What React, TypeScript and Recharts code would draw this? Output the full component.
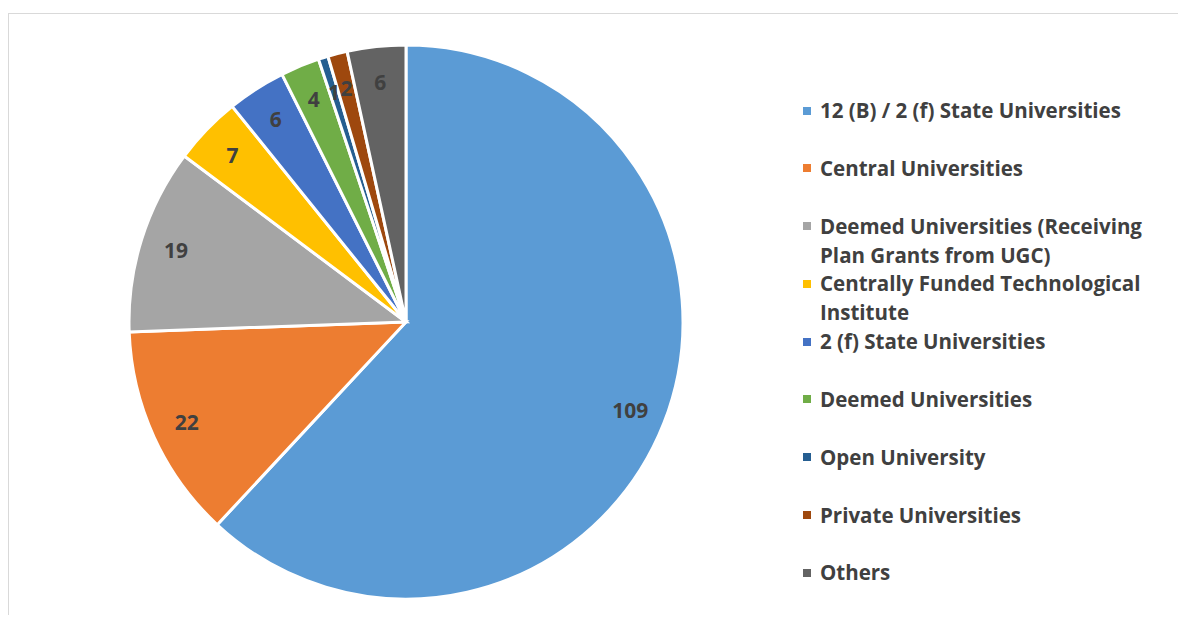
import React from "react";
import { PieChart, Pie, Cell, Legend } from "recharts";

const categories = [
  "12 (B) / 2 (f) State Universities",
  "Central Universities",
  "Deemed Universities (Receiving Plan Grants from UGC)",
  "Centrally Funded Technological Institute",
  "2 (f) State Universities",
  "Deemed Universities",
  "Open University",
  "Private Universities",
  "Others",
];

const counts = [109, 22, 19, 7, 6, 4, 1, 2, 6];

const colors = [
  "#5B9BD5",
  "#ED7D31",
  "#A5A5A5",
  "#FFC000",
  "#4472C4",
  "#70AD47",
  "#255E91",
  "#9E480E",
  "#636363",
];

const pieData = categories.map((name, i) => ({ name, value: counts[i] }));

const FONT = "'Open Sans', Lato, sans-serif";
const RADIAN = Math.PI / 180;

const renderLabel = (props: any) => {
  const { cx, cy, midAngle, value } = props;
  const r = 241;
  const x = cx + r * Math.cos(-midAngle * RADIAN);
  const y = cy + r * Math.sin(-midAngle * RADIAN);
  return (
    <text
      x={x}
      y={y}
      fill="#404040"
      fontSize={21}
      fontWeight={700}
      fontFamily={FONT}
      textAnchor="middle"
      dominantBaseline="central"
    >
      {value}
    </text>
  );
};

// keep the original series order (recharts would sort the payload)
const CustomLegend = () => {
  return (
    <ul style={{ listStyle: "none", margin: 0, padding: 0 }}>
      {categories.map((name, index) => (
        <li
          key={`item-${index}`}
          style={{
            display: "flex",
            alignItems: "flex-start",
            height: 57.8,
          }}
        >
          <span
            style={{
              width: 8,
              height: 8,
              backgroundColor: colors[index],
              marginTop: 10.5,
              marginRight: 9,
              flexShrink: 0,
            }}
          ></span>
          <span
            style={{
              color: "#404040",
              fontSize: 20.5,
              fontWeight: 700,
              fontFamily: FONT,
              lineHeight: "29px",
              width: 338,
            }}
          >
            {name}
          </span>
        </li>
      ))}
    </ul>
  );
};

export default function App() {
  return (
    <div style={{ position: "relative", width: 1170, height: 607 }}>
      <div
        style={{
          position: "absolute",
          left: 0,
          top: 5,
          width: 1180,
          height: 610,
          borderTop: "1px solid #D9D9D9",
          borderLeft: "1px solid #D9D9D9",
          boxSizing: "border-box",
        }}
      />
      <PieChart
        width={1170}
        height={607}
        margin={{ top: 0, right: 0, bottom: 0, left: 0 }}
        style={{ position: "relative" }}
      >
        <Pie
          data={pieData}
          dataKey="value"
          nameKey="name"
          cx={398}
          cy={314}
          outerRadius={277}
          startAngle={90}
          endAngle={-270}
          stroke="#FFFFFF"
          strokeWidth={3}
          label={renderLabel}
          labelLine={false}
          isAnimationActive={false}
        >
          {pieData.map((entry, i) => (
            <Cell key={entry.name} fill={colors[i]} />
          ))}
        </Pie>
        <Legend
          layout="vertical"
          align="right"
          verticalAlign="top"
          content={<CustomLegend />}
          wrapperStyle={{ left: 795, top: 88, width: 370 }}
        />
      </PieChart>
    </div>
  );
}
